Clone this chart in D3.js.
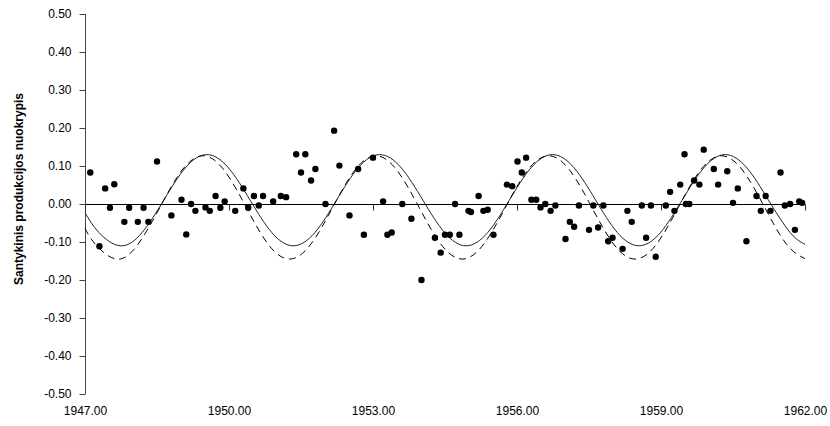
<!DOCTYPE html>
<html>
<head>
<meta charset="utf-8">
<script src="https://d3js.org/d3.v7.min.js"></script>
<style>
  body { margin: 0; background: #fff; }
  svg { display: block; }
  .axis text { font-family: "Liberation Sans", Arial, sans-serif; font-size: 12px; fill: #000; }
  .ylabel { font-family: "Liberation Sans", Arial, sans-serif; font-size: 12px; font-weight: bold; }
</style>
</head>
<body>
<svg id="chart" width="830" height="426"></svg>
<script>
// observed points (year, relative deviation)
var dotYears = [1947.11, 1947.30, 1947.42, 1947.52, 1947.61, 1947.82, 1947.92, 1948.10, 1948.22, 1948.32,
                1948.50, 1948.80, 1949.01, 1949.11, 1949.21, 1949.30, 1949.51, 1949.60, 1949.72, 1949.82,
                1949.91, 1950.13, 1950.30, 1950.40, 1950.52, 1950.62, 1950.71, 1950.92, 1951.08, 1951.19,
                1951.40, 1951.50, 1951.59, 1951.71, 1951.80, 1952.01, 1952.19, 1952.30, 1952.51, 1952.69,
                1952.81, 1953.00, 1953.21, 1953.30, 1953.39, 1953.61, 1953.80, 1954.01, 1954.29, 1954.41,
                1954.50, 1954.60, 1954.71, 1954.80, 1954.99, 1955.04, 1955.20, 1955.30, 1955.39, 1955.51,
                1955.79, 1955.90, 1956.01, 1956.10, 1956.19, 1956.30, 1956.40, 1956.49, 1956.59, 1956.70,
                1956.80, 1957.01, 1957.10, 1957.19, 1957.29, 1957.50, 1957.59, 1957.69, 1957.80, 1957.90,
                1957.99, 1958.20, 1958.30, 1958.39, 1958.60, 1958.69, 1958.79, 1958.89, 1959.10, 1959.19,
                1959.28, 1959.40, 1959.49, 1959.52, 1959.59, 1959.69, 1959.80, 1959.89, 1960.10, 1960.19,
                1960.38, 1960.50, 1960.60, 1960.78, 1960.99, 1961.08, 1961.18, 1961.28, 1961.49, 1961.58,
                1961.69, 1961.79, 1961.88, 1961.94];
var dotValues = [0.083, -0.111, 0.041, -0.010, 0.052, -0.047, -0.010, -0.047, -0.010, -0.047,
                 0.112, -0.030, 0.011, -0.080, 0.000, -0.018, -0.009, -0.018, 0.021, -0.010,
                 0.007, -0.018, 0.041, -0.010, 0.021, -0.004, 0.021, 0.007, 0.021, 0.018,
                 0.131, 0.083, 0.131, 0.062, 0.092, 0.000, 0.193, 0.101, -0.030, 0.092,
                 -0.081, 0.122, 0.007, -0.081, -0.075, 0.000, -0.039, -0.200, -0.089, -0.128,
                 -0.081, -0.081, 0.000, -0.081, -0.018, -0.021, 0.021, -0.018, -0.015, -0.081,
                 0.051, 0.047, 0.112, 0.083, 0.122, 0.011, 0.011, -0.009, 0.000, -0.018,
                 -0.004, -0.092, -0.047, -0.060, -0.004, -0.068, -0.004, -0.062, -0.004, -0.098,
                 -0.089, -0.118, -0.018, -0.047, -0.004, -0.089, -0.004, -0.139, -0.004, 0.032,
                 -0.018, 0.051, 0.131, 0.000, 0.000, 0.062, 0.051, 0.143, 0.092, 0.051,
                 0.086, 0.003, 0.041, -0.098, 0.021, -0.018, 0.021, -0.018, 0.083, -0.004,
                 0.000, -0.068, 0.007, 0.003];

// fitted curve, solid line
var solidYears = [1947.00, 1947.29, 1947.74, 1948.19, 1948.64, 1949.09, 1949.54, 1949.99, 1950.44, 1950.89,
                  1951.34, 1951.79, 1952.24, 1952.69, 1953.14, 1953.59, 1954.04, 1954.49, 1954.94, 1955.39,
                  1955.84, 1956.29, 1956.74, 1957.19, 1957.64, 1958.09, 1958.54, 1958.99, 1959.44, 1959.89,
                  1960.34, 1960.79, 1961.24, 1961.69, 1962.00];
var solidValues = [-0.023, -0.075, -0.110, -0.075, 0.010, 0.095, 0.130, 0.095, 0.010, -0.075,
                   -0.110, -0.075, 0.010, 0.095, 0.130, 0.095, 0.010, -0.075, -0.110, -0.075,
                   0.010, 0.095, 0.130, 0.095, 0.010, -0.075, -0.110, -0.075, 0.010, 0.095,
                   0.130, 0.095, 0.010, -0.075, -0.106];

// fitted curve, dashed line
var dashYears = [1947.00, 1947.21, 1947.66, 1948.11, 1948.56, 1949.01, 1949.46, 1949.91, 1950.36, 1950.81,
                 1951.26, 1951.71, 1952.16, 1952.61, 1953.06, 1953.51, 1953.96, 1954.41, 1954.86, 1955.31,
                 1955.76, 1956.21, 1956.66, 1957.11, 1957.56, 1958.01, 1958.46, 1958.91, 1959.36, 1959.81,
                 1960.26, 1960.71, 1961.16, 1961.61, 1962.00];
var dashValues = [-0.064, -0.105, -0.145, -0.105, -0.009, 0.087, 0.127, 0.087, -0.009, -0.105,
                  -0.145, -0.105, -0.009, 0.087, 0.127, 0.087, -0.009, -0.105, -0.145, -0.105,
                  -0.009, 0.087, 0.127, 0.087, -0.009, -0.105, -0.145, -0.105, -0.009, 0.087,
                  0.127, 0.087, -0.009, -0.105, -0.144];

var yTicks = [0.5, 0.4, 0.3, 0.2, 0.1, 0, -0.1, -0.2, -0.3, -0.4, -0.5];
var xTicks = [1947, 1950, 1953, 1956, 1959, 1962];
var yTitle = "Santykinis produkcijos nuokrypis";

window.onload = function() {
  var svg = d3.select("#chart");

  var x = d3.scaleLinear().domain([1947, 1962]).range([85, 805]);
  var y = d3.scaleLinear().domain([-0.5, 0.5]).range([394, 14]);

  // y axis
  var yAxis = d3.axisLeft(y)
      .tickValues(yTicks)
      .tickSize(6)
      .tickPadding(8)
      .tickFormat(function(d) { return d.toFixed(2); });

  var gy = svg.append("g")
      .attr("class", "axis")
      .attr("transform", "translate(85.5,0)")
      .call(yAxis);
  gy.select(".domain").attr("stroke", "#444").attr("d", "M0," + y(0.5) + "V" + y(-0.5));
  gy.selectAll(".tick line").attr("stroke", "#444");

  // zero line with ticks
  var gx = svg.append("g")
      .attr("class", "axis")
      .attr("transform", "translate(0," + (y(0) + 0.5) + ")")
      .call(d3.axisBottom(x).tickValues(xTicks).tickSize(6).tickFormat(""));
  gx.select(".domain").attr("stroke", "#000").attr("d", "M" + x(1947) + ",0H" + (x(1962) + 0.5));
  gx.selectAll(".tick line").attr("stroke", "#333");

  // tick labels along bottom
  var gxl = svg.append("g")
      .attr("class", "axis")
      .attr("transform", "translate(0,394)")
      .call(d3.axisBottom(x).tickValues(xTicks).tickSize(0).tickPadding(12)
        .tickFormat(function(d) { return d.toFixed(2); }));
  gxl.select(".domain").remove();

  svg.append("text")
      .attr("class", "ylabel")
      .attr("transform", "translate(23," + 189 + ") rotate(-90)")
      .attr("text-anchor", "middle")
      .text(yTitle);

  var line = d3.line()
      .x(function(d) { return x(d[0]); })
      .y(function(d) { return y(d[1]); })
      .curve(d3.curveNatural);

  svg.append("path")
      .datum(d3.zip(solidYears, solidValues))
      .attr("d", line)
      .attr("fill", "none")
      .attr("stroke", "#222")
      .attr("stroke-width", 1);

  svg.append("path")
      .datum(d3.zip(dashYears, dashValues))
      .attr("d", line)
      .attr("fill", "none")
      .attr("stroke", "#000")
      .attr("stroke-width", 1)
      .attr("stroke-dasharray", "7,5");

  svg.selectAll("circle.dot")
      .data(d3.zip(dotYears, dotValues))
      .enter().append("circle")
      .attr("class", "dot")
      .attr("cx", function(d) { return x(d[0]); })
      .attr("cy", function(d) { return y(d[1]); })
      .attr("r", 3.2)
      .attr("fill", "#000");
};
</script>
</body>
</html>
